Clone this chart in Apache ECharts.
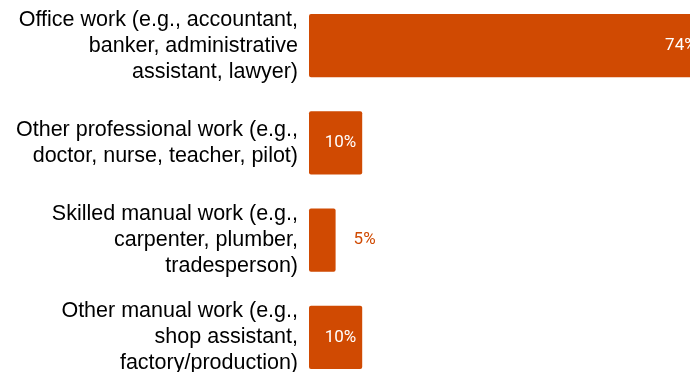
<!DOCTYPE html>
<html>
<head>
<meta charset="utf-8">
<script src="https://cdn.jsdelivr.net/npm/echarts@6/dist/echarts.min.js"></script>
<style>
  html, body { margin: 0; padding: 0; background: #fff; }
  #chart { width: 690px; height: 372px; }
</style>
</head>
<body>
<div id="chart"></div>
<script>
// Occupation categories, top to bottom
const categories = [
  'Office work (e.g., accountant,\nbanker, administrative\nassistant, lawyer)',
  'Other professional work (e.g.,\ndoctor, nurse, teacher, pilot)',
  'Skilled manual work (e.g.,\ncarpenter, plumber,\ntradesperson)',
  'Other manual work (e.g.,\nshop assistant,\nfactory/production)'
];
// Share of respondents, percent
const shares = [74, 10, 5, 10];

const ORANGE = '#D04A02';

// Small bars get their value label outside the bar
const seriesData = shares.map(v => {
  if (v < 8) {
    return {
      value: v,
      label: {
        position: 'right',
        distance: 18,
        color: ORANGE,
        textBorderColor: '#fff',
        textBorderWidth: 2
      }
    };
  }
  return { value: v };
});

const chart = echarts.init(document.getElementById('chart'), null, { renderer: 'canvas' });
chart.setOption({
  animation: false,
  backgroundColor: '#fff',
  grid: {
    left: 309, width: 532, top: -3, height: 389,
    containLabel: false,
    outerBoundsMode: 'none'
  },
  xAxis: {
    type: 'value',
    min: 0,
    max: 100,
    show: false
  },
  yAxis: {
    type: 'category',
    inverse: true,
    data: categories,
    axisLine: { show: false },
    axisTick: { show: false },
    splitLine: { show: false },
    axisLabel: {
      margin: 11,
      color: '#000',
      fontFamily: 'Liberation Sans, Arial, sans-serif',
      fontSize: 21.5,
      lineHeight: 26,
      padding: [3, 0, 0, 0],
      align: 'right'
    }
  },
  series: [{
    type: 'bar',
    data: seriesData,
    barWidth: '65%',
    itemStyle: { color: ORANGE, borderRadius: 2 },
    label: {
      show: true,
      position: 'insideRight',
      distance: 6,
      color: '#fff',
      fontFamily: 'Roboto, sans-serif',
      fontSize: 17,
      formatter: '{c}%'
    }
  }]
});
</script>
</body>
</html>
